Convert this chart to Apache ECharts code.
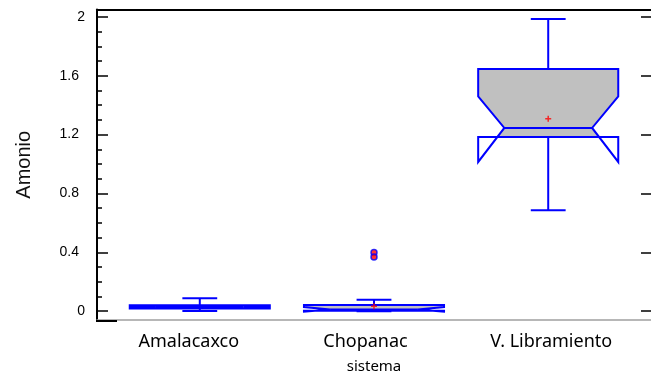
<!DOCTYPE html>
<html>
<head>
<meta charset="utf-8">
<script src="https://cdn.jsdelivr.net/npm/echarts@6/dist/echarts.min.js"></script>
<style>
  html, body { margin: 0; padding: 0; background: #fff; }
  #chart { width: 651px; height: 379px; }
</style>
</head>
<body>
<div id="chart"></div>
<script>
// Ammonium by system: notched box-and-whisker plot
const categories = ['Amalacaxco', 'Chopanac', 'V. Libramiento'];
const whiskerLow  = [0.002, 0.000, 0.686];
const quartile1   = [0.018, 0.003, 1.184];
const medians     = [0.028, 0.012, 1.245];
const quartile3   = [0.040, 0.042, 1.646];
const whiskerHigh = [0.088, 0.077, 1.985];
const notchLow    = [0.022, -0.004, 1.014];
const notchHigh   = [0.034, 0.028, 1.459];
const means       = [null, 0.034, 1.308];
const outlierSystem = ['Chopanac', 'Chopanac'];
const outlierValues = [0.398, 0.368];
const yTicks = [0, 0.4, 0.8, 1.2, 1.6, 2];
const yMinorTicks = [0.1, 0.2, 0.3, 0.5, 0.6, 0.7, 0.9, 1.0, 1.1, 1.3, 1.4, 1.5, 1.7, 1.8, 1.9];

const Y_MIN = -0.06, Y_MAX = 2.05;
const X_MIN = 0.41, X_MAX = 3.59;
const BLUE = '#0000ff';
const FILL = '#c0c0c0';

const boxData = categories.map((c, i) => [
  i + 1, whiskerLow[i], quartile1[i], medians[i], quartile3[i],
  whiskerHigh[i], notchLow[i], notchHigh[i]
]);

function renderBox(params, api) {
  const x = api.value(0);
  const lo = api.value(1), q1 = api.value(2), med = api.value(3), q3 = api.value(4);
  const hi = api.value(5), nL = api.value(6), nH = api.value(7);
  const hw = 0.402, nw = 0.252, cw = 0.1;
  const P = (dx, v) => api.coord([x + dx, v]);

  // grey body: stops at the quartile lines where a notch runs past them
  const body = [];
  if (nH <= q3) {
    body.push(P(-hw, q3), P(hw, q3), P(hw, nH));
  } else {
    const xu = nw + (q3 - med) / (nH - med) * (hw - nw);
    body.push(P(-xu, q3), P(xu, q3));
  }
  body.push(P(nw, med));
  if (nL <= q1) {
    const xl = nw + (q1 - med) / (nL - med) * (hw - nw);
    body.push(P(xl, q1), P(-xl, q1));
  } else {
    body.push(P(hw, nL), P(hw, q1), P(-hw, q1), P(-hw, nL));
  }
  body.push(P(-nw, med));
  if (nH <= q3) body.push(P(-hw, nH));

  const outline = [
    P(-hw, q3), P(hw, q3), P(hw, nH), P(nw, med), P(hw, nL), P(hw, q1),
    P(-hw, q1), P(-hw, nL), P(-nw, med), P(-hw, nH)
  ];
  const stroke = { stroke: BLUE, lineWidth: 2, fill: null };
  const seg = (a, b) => ({ type: 'line', shape: { x1: a[0], y1: a[1], x2: b[0], y2: b[1] }, style: stroke });

  return {
    type: 'group',
    children: [
      { type: 'polygon', shape: { points: body }, style: { fill: FILL, stroke: null } },
      seg(P(0, q3), P(0, hi)),
      seg(P(-cw, hi), P(cw, hi)),
      seg(P(0, q1), P(0, lo)),
      seg(P(-cw, lo), P(cw, lo)),
      { type: 'polygon', shape: { points: outline }, style: stroke },
      seg(P(-nw, med), P(nw, med))
    ]
  };
}

const chart = echarts.init(document.getElementById('chart'), null, { renderer: 'canvas' });

const tickLabelFont = { fontFamily: 'Liberation Sans', fontSize: 14, color: '#000' };
const catFont = { fontFamily: 'Noto Sans', fontSize: 18, color: '#000' };

chart.setOption({
  animation: false,
  backgroundColor: '#fff',
  grid: { left: 97, top: 9.5, width: 561, height: 311.5 },
  xAxis: [
    {
      type: 'value', min: X_MIN, max: X_MAX, position: 'bottom',
      axisLine: { show: true, onZero: false, lineStyle: { color: '#a0a0a0', width: 1.5 } },
      axisTick: { show: false },
      splitLine: { show: false },
      axisLabel: {
        customValues: [1, 2, 3],
        formatter: v => '{c' + (Math.round(v) - 1) + '|' + categories[Math.round(v) - 1] + '}',
        margin: 13,
        rich: {
          c0: Object.assign({ padding: [0, 22, 0, 0] }, catFont),
          c1: Object.assign({ padding: [0, 17, 0, 0] }, catFont),
          c2: Object.assign({ padding: [0, 0, 0, 6] }, catFont)
        }
      },
      name: 'sistema', nameLocation: 'middle', nameGap: 39,
      nameTextStyle: { fontFamily: 'Noto Sans', fontSize: 15, color: '#000' }
    },
    {
      type: 'value', min: X_MIN, max: X_MAX, position: 'top',
      axisLine: { show: true, onZero: false, lineStyle: { color: '#000', width: 2 } },
      axisTick: { show: false }, axisLabel: { show: false }, splitLine: { show: false }
    }
  ],
  yAxis: [
    {
      type: 'value', min: Y_MIN, max: Y_MAX, position: 'left',
      axisLine: { show: true, onZero: false, lineStyle: { color: '#000', width: 2 } },
      axisTick: { inside: true, length: 11, customValues: yTicks, lineStyle: { color: '#000', width: 1.5 } },
      axisLabel: {
        customValues: yTicks, margin: 12,
        formatter: v => Number.isInteger(v) ? '{i|' + v + '}' : '{d|' + v.toFixed(1) + '}',
        rich: {
          i: tickLabelFont,
          d: Object.assign({ padding: [0, 6, 0, 0] }, tickLabelFont)
        }
      },
      splitLine: { show: false },
      name: 'Amonio', nameLocation: 'middle', nameGap: 63, nameRotate: 90,
      nameTextStyle: { fontFamily: 'Liberation Sans', fontSize: 20, color: '#111' }
    },
    {
      type: 'value', min: Y_MIN, max: Y_MAX, position: 'left',
      axisLine: { show: false },
      axisTick: { inside: true, length: 5, customValues: yMinorTicks, lineStyle: { color: '#000', width: 1.5 } },
      axisLabel: { show: false }, splitLine: { show: false }
    },
    {
      type: 'value', min: Y_MIN, max: Y_MAX, position: 'right',
      axisLine: { show: false },
      axisTick: { inside: true, length: 10, customValues: yTicks, lineStyle: { color: '#000', width: 1.5 } },
      axisLabel: { show: false }, splitLine: { show: false }
    }
  ],
  graphic: [
    // short black foot of the vertical axis
    { type: 'line', shape: { x1: 96, y1: 321, x2: 117, y2: 321 }, style: { stroke: '#000', lineWidth: 2 }, z: 10 }
  ],
  series: [
    {
      type: 'custom',
      renderItem: renderBox,
      data: boxData,
      encode: { x: 0, y: [1, 2, 3, 4, 5, 6, 7] },
      clip: false,
      z: 2
    },
    {
      type: 'scatter',
      data: outlierSystem.map((s, i) => [categories.indexOf(s) + 1, outlierValues[i]]),
      symbol: 'circle', symbolSize: 6,
      itemStyle: { color: '#ff0000', borderColor: BLUE, borderWidth: 1.5 },
      z: 4
    },
    {
      type: 'scatter',
      data: means.map((m, i) => m === null ? null : [i + 1, m]).filter(d => d),
      symbol: 'path://M3,0h2v3h3v2h-3v3h-2v-3h-3v-2h3z', symbolSize: 6,
      itemStyle: { color: '#ff0000' },
      z: 5
    }
  ]
});
</script>
</body>
</html>
